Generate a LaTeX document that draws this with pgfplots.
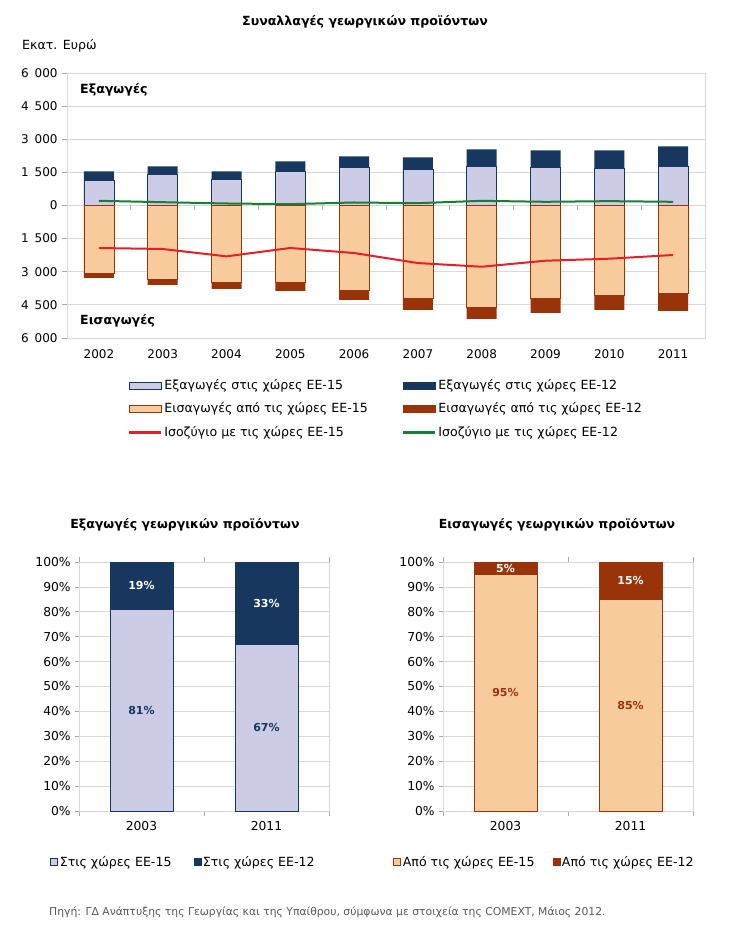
\documentclass[border=0pt]{standalone}
\usepackage{pgfplots}
\pgfplotsset{compat=1.18}
\usepackage{pgfplotstable}
\usepackage{fontspec}
\setmainfont{DejaVu Sans}
\definecolor{navy}{RGB}{23,55,94}
\definecolor{lav}{RGB}{204,204,230}
\definecolor{peach}{RGB}{248,203,157}
\definecolor{brn}{RGB}{153,51,10}
\definecolor{lred}{RGB}{232,30,37}
\definecolor{lgreen}{RGB}{19,128,52}
\definecolor{gridg}{RGB}{217,217,217}
\definecolor{tickg}{RGB}{170,170,170}
\definecolor{srcg}{RGB}{89,89,89}

\pgfplotstableread{
x year e15 e12 i15 i12 b15 b12
0 2002 1136 410 -3091 -182 -1924 212
1 2003 1409 364 -3364 -227 -1970 150
2 2004 1182 364 -3500 -273 -2303 91
3 2005 1545 455 -3500 -364 -1924 61
4 2006 1727 500 -3864 -409 -2152 136
5 2007 1636 545 -4182 -545 -2606 106
6 2008 1773 773 -4591 -545 -2773 212
7 2009 1727 773 -4227 -636 -2500 167
8 2010 1682 818 -4091 -636 -2409 197
9 2011 1773 909 -4000 -773 -2242 167
}\trade

\pgfplotsset{
  wideleg/.style={legend image code/.code={\draw[##1] (0pt,-3.5pt) rectangle (32pt,3.5pt);}},
  lineleg/.style={legend image code/.code={\draw[##1] (0pt,0pt) -- (32pt,0pt);}},
  sqleg/.style={legend image code/.code={\draw[##1] (0pt,-3.5pt) rectangle (7pt,3.5pt);}},
}
\newcommand{\fs}{\fontsize{12.6}{15}\selectfont}
\newcommand{\pl}{\bfseries\fontsize{11}{13}\selectfont}

\begin{document}
\fs
\begin{tikzpicture}
\path[use as bounding box] (0,0) rectangle (731pt,-933pt);
\node[font=\bfseries\fontsize{12.6}{15}\selectfont] at (365pt,-22pt) {Συναλλαγές γεωργικών προϊόντων};
\node[anchor=west, inner sep=0pt, font=\fs] at (22pt,-46pt) {Εκατ. Ευρώ};

\begin{axis}[
  at={(67pt,-338pt)}, anchor=south west, scale only axis,
  width=638pt, height=265pt,
  ybar, bar width=30pt,
  xmin=-0.5, xmax=9.5, ymin=-6000, ymax=6000,
  xtick={0,...,9},
  xticklabels={2002,2003,2004,2005,2006,2007,2008,2009,2010,2011},
  ytick={-6000,-4500,-3000,-1500,0,1500,3000,4500,6000},
  yticklabels={6\enspace000,4\enspace500,3\enspace000,1\enspace500,0,1\enspace500,3\enspace000,4\enspace500,6\enspace000},
  major x tick style={draw=none},
  ytick pos=left, y tick style={draw=tickg, line width=0.8pt},
  tick align=outside, major tick length=5pt,
  ymajorgrids, grid style={gridg, line width=0.8pt},
  axis line style={gridg, line width=0.8pt},
  tick label style={font=\fontsize{12}{14}\selectfont},
  x tick label style={yshift=-2pt},
  legend columns=2, legend cell align=left,
  legend style={at={(axis description cs:0.095,-0.148)}, anchor=north west,
    draw=none, fill=none, inner sep=0pt, row sep=7.5pt,
    font=\fs,
    /tikz/every even column/.append style={column sep=32pt}},
]
\addplot[fill=navy, draw=none, bar shift=0pt, forget plot]
  table[x=x, y expr=\thisrow{e15}+\thisrow{e12}] {\trade};
\addplot[fill=lav, draw=navy, line width=0.7pt, bar shift=0pt, forget plot]
  table[x=x, y=e15] {\trade};
\addplot[fill=brn, draw=none, bar shift=0pt, forget plot]
  table[x=x, y expr=\thisrow{i15}+\thisrow{i12}] {\trade};
\addplot[fill=peach, draw=brn, line width=0.7pt, bar shift=0pt, forget plot]
  table[x=x, y=i15] {\trade};
\addplot[sharp plot, lred, line width=2pt, no markers, forget plot]
  table[x=x, y=b15] {\trade};
\addplot[sharp plot, lgreen, line width=2pt, no markers, forget plot]
  table[x=x, y=b12] {\trade};
\coordinate (z0) at (axis cs:0.5,0);
\coordinate (z1) at (axis cs:1.5,0);
\coordinate (z2) at (axis cs:2.5,0);
\coordinate (z3) at (axis cs:3.5,0);
\coordinate (z4) at (axis cs:4.5,0);
\coordinate (z5) at (axis cs:5.5,0);
\coordinate (z6) at (axis cs:6.5,0);
\coordinate (z7) at (axis cs:7.5,0);
\coordinate (z8) at (axis cs:8.5,0);
\addlegendimage{wideleg, fill=lav, draw=navy, line width=0.8pt}
\addlegendentry{Εξαγωγές στις χώρες ΕΕ-15}
\addlegendimage{wideleg, fill=navy, draw=navy}
\addlegendentry{Εξαγωγές στις χώρες ΕΕ-12}
\addlegendimage{wideleg, fill=peach, draw=brn, line width=0.8pt}
\addlegendentry{Εισαγωγές από τις χώρες ΕΕ-15}
\addlegendimage{wideleg, fill=brn, draw=brn}
\addlegendentry{Εισαγωγές από τις χώρες ΕΕ-12}
\addlegendimage{lineleg, lred, line width=2.5pt}
\addlegendentry{Ισοζύγιο με τις χώρες ΕΕ-15}
\addlegendimage{lineleg, lgreen, line width=2.5pt}
\addlegendentry{Ισοζύγιο με τις χώρες ΕΕ-12}
\end{axis}
\foreach \k in {0,...,8} {\draw[tickg, line width=0.8pt] (z\k) -- ++(0pt,-5pt);}
\node[anchor=west, inner sep=0pt, font=\bfseries\fontsize{12.6}{15}\selectfont] at (80pt,-90pt) {Εξαγωγές};
\node[anchor=west, inner sep=0pt, font=\bfseries\fontsize{12.6}{15}\selectfont] at (80pt,-321pt) {Εισαγωγές};

% Bottom-left: exports shares
\node[font=\bfseries\fontsize{12.5}{15}\selectfont] at (185pt,-525pt) {Εξαγωγές γεωργικών προϊόντων};
\begin{axis}[
  at={(79pt,-811pt)}, anchor=south west, scale only axis,
  width=250pt, height=249pt,
  ybar stacked, bar width=63pt,
  xmin=-0.5, xmax=1.5, ymin=0, ymax=100,
  xtick={0,1}, xticklabels={2003,2011},
  minor xtick={-0.5,0.5,1.5},
  major x tick style={draw=none},
  minor x tick style={draw=tickg, line width=0.8pt},
  minor tick length=5pt,
  ytick={0,10,...,100},
  yticklabels={0\%,10\%,20\%,30\%,40\%,50\%,60\%,70\%,80\%,90\%,100\%},
  ytick pos=left, y tick style={draw=tickg, line width=0.8pt},
  tick align=outside, major tick length=4pt,
  ymajorgrids, grid style={gridg, line width=0.8pt},
  axis line style={gridg, line width=0.8pt},
  tick label style={font=\fontsize{12.3}{14}\selectfont},
  x tick label style={yshift=-2pt},
  legend columns=2,
  legend style={at={(axis description cs:-0.116,-0.205)}, anchor=west,
    draw=none, fill=none, inner sep=0pt,
    font=\fs,
    /tikz/every even column/.append style={column sep=20pt}},
]
\addplot[fill=lav, draw=navy, line width=0.6pt, sqleg] coordinates {(0,81) (1,67)};
\addlegendentry{Στις χώρες ΕΕ-15}
\addplot[fill=navy, draw=navy, sqleg] coordinates {(0,19) (1,33)};
\addlegendentry{Στις χώρες ΕΕ-12}
\coordinate (a1) at (axis cs:0,90.5);
\coordinate (a2) at (axis cs:0,40.5);
\coordinate (a3) at (axis cs:1,83.5);
\coordinate (a4) at (axis cs:1,33.5);
\end{axis}
\node[font=\pl, text=white] at (a1) {19\%};
\node[font=\pl, text=navy] at (a2) {81\%};
\node[font=\pl, text=white] at (a3) {33\%};
\node[font=\pl, text=navy] at (a4) {67\%};

% Bottom-right: imports shares
\node[font=\bfseries\fontsize{12.5}{15}\selectfont] at (557pt,-525pt) {Εισαγωγές γεωργικών προϊόντων};
\begin{axis}[
  at={(443pt,-811pt)}, anchor=south west, scale only axis,
  width=250pt, height=249pt,
  ybar stacked, bar width=63pt,
  xmin=-0.5, xmax=1.5, ymin=0, ymax=100,
  xtick={0,1}, xticklabels={2003,2011},
  minor xtick={-0.5,0.5,1.5},
  major x tick style={draw=none},
  minor x tick style={draw=tickg, line width=0.8pt},
  minor tick length=5pt,
  ytick={0,10,...,100},
  yticklabels={0\%,10\%,20\%,30\%,40\%,50\%,60\%,70\%,80\%,90\%,100\%},
  ytick pos=left, y tick style={draw=tickg, line width=0.8pt},
  tick align=outside, major tick length=4pt,
  ymajorgrids, grid style={gridg, line width=0.8pt},
  axis line style={gridg, line width=0.8pt},
  tick label style={font=\fontsize{12.3}{14}\selectfont},
  x tick label style={yshift=-2pt},
  legend columns=2,
  legend style={at={(axis description cs:-0.2,-0.205)}, anchor=west,
    draw=none, fill=none, inner sep=0pt,
    font=\fs,
    /tikz/every even column/.append style={column sep=16pt}},
]
\addplot[fill=peach, draw=brn, line width=0.6pt, sqleg] coordinates {(0,95) (1,85)};
\addlegendentry{Από τις χώρες ΕΕ-15}
\addplot[fill=brn, draw=brn, sqleg] coordinates {(0,5) (1,15)};
\addlegendentry{Από τις χώρες ΕΕ-12}
\coordinate (b1) at (axis cs:0,97.5);
\coordinate (b2) at (axis cs:0,47.5);
\coordinate (b3) at (axis cs:1,92.5);
\coordinate (b4) at (axis cs:1,42.5);
\end{axis}
\node[font=\pl, text=white] at (b1) {5\%};
\node[font=\pl, text=brn] at (b2) {95\%};
\node[font=\pl, text=white] at (b3) {15\%};
\node[font=\pl, text=brn] at (b4) {85\%};

\node[anchor=west, inner sep=0pt, text=srcg, font=\fontsize{10.8}{12}\selectfont] at (49pt,-912pt)
  {Πηγή: ΓΔ Ανάπτυξης της Γεωργίας και της Υπαίθρου, σύμφωνα με στοιχεία της COMEXT, Μάιος 2012.};
\end{tikzpicture}
\end{document}
